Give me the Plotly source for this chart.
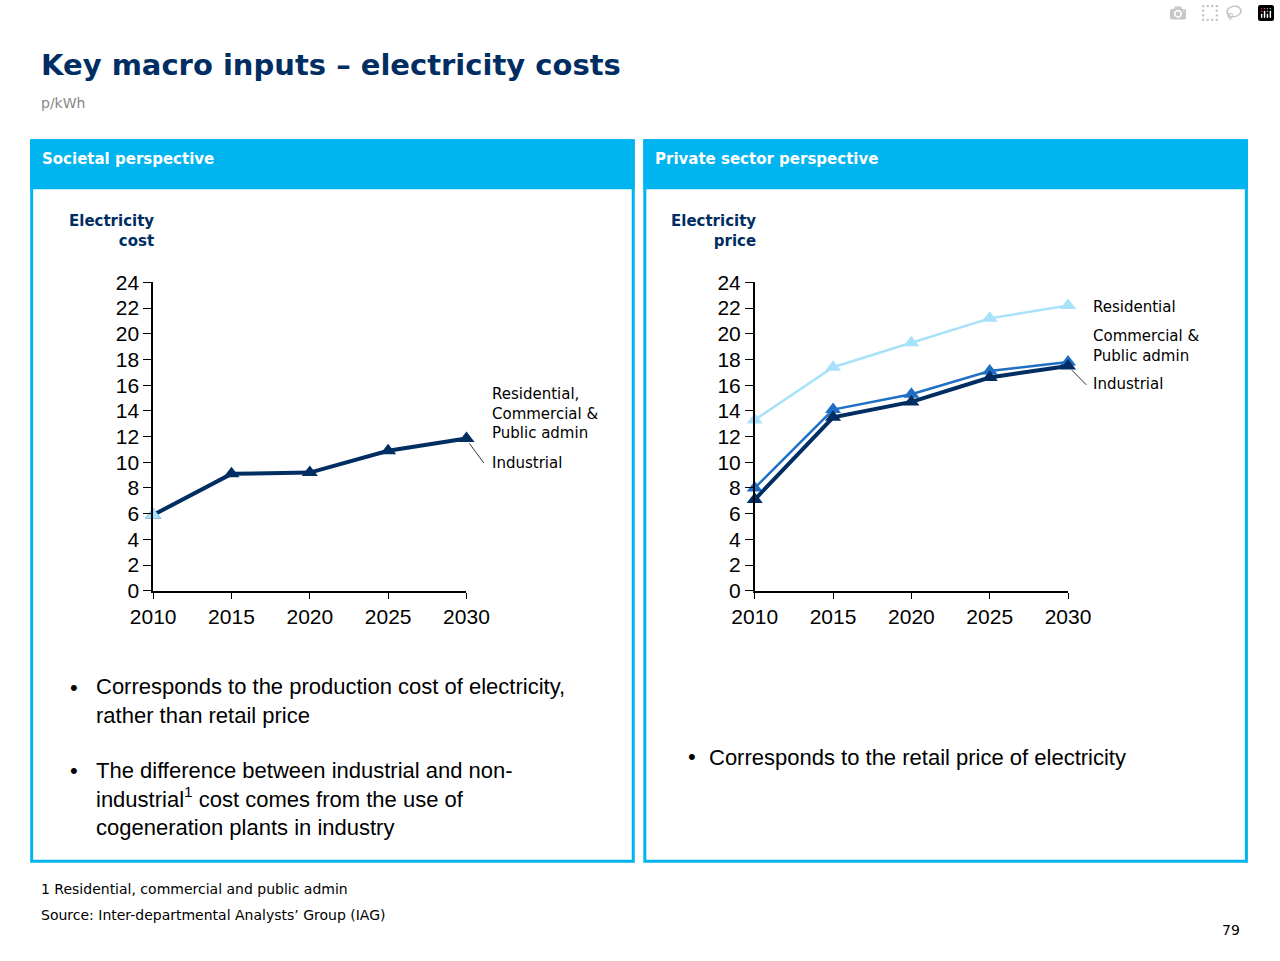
import plotly.graph_objects as go

years = [2010, 2015, 2020, 2025, 2030]
soc_industrial = [5.9, 9.1, 9.2, 10.9, 11.85]
soc_residential = [5.9, 9.1, 9.2, 10.9, 11.85]
priv_residential = [13.3, 17.4, 19.3, 21.2, 22.2]
priv_commercial = [8.0, 14.1, 15.3, 17.1, 17.8]
priv_industrial = [7.1, 13.5, 14.7, 16.6, 17.5]
yticks = list(range(0, 25, 2))

W, H = 1280, 961
def px(x): return x / W
def py(y): return 1 - y / H

NAVY = "#002D62"
MID = "#1F6FC5"
LIGHT = "#A8E2FA"
CYAN = "#00B4F0"

fig = go.Figure()
def tr(x, y, color, width, xa, ya, msize=14, mode="lines+markers"):
    fig.add_trace(go.Scatter(x=x, y=y, mode=mode, xaxis=xa, yaxis=ya,
                             line=dict(color=color, width=width),
                             marker=dict(symbol="triangle-up", size=msize, color=color),
                             cliponaxis=False, showlegend=False))

tr(years, soc_industrial, NAVY, 4, "x", "y")
tr(years[:1], soc_residential[:1], LIGHT, 3, "x", "y", mode="markers")
tr(years, priv_residential, LIGHT, 2.5, "x2", "y2")
tr(years, priv_commercial, MID, 2.5, "x2", "y2")
tr(years, priv_industrial, NAVY, 4, "x2", "y2")

ydom = [py(593), py(277)]
axfont = dict(family="Liberation Sans, Arial", size=21, color="black")
common_x = dict(range=[2010, 2030], tickvals=years, showline=True, linecolor="black", linewidth=1.5,
                ticks="outside", ticklen=6, tickcolor="black", showgrid=False, zeroline=False,
                tickfont=axfont, fixedrange=True)
common_y = dict(range=[0, 24], tickvals=yticks, showline=True, linecolor="black", linewidth=1.5,
                ticks="outside", ticklen=8, tickcolor="black", showgrid=False, zeroline=False,
                tickfont=axfont, domain=ydom, fixedrange=True)
fig.update_layout(
    width=W, height=H, margin=dict(l=0, r=0, t=0, b=0), autosize=False,
    paper_bgcolor="white", plot_bgcolor="white",
    xaxis=dict(common_x, domain=[px(135), px(460)], anchor="y"),
    yaxis=dict(common_y, anchor="x"),
    xaxis2=dict(common_x, domain=[px(759), px(1084)], anchor="y2"),
    yaxis2=dict(common_y, anchor="x2"),
)

shapes = []
for x0, x1 in [(9, 633), (645, 1269)]:
    shapes.append(dict(type="rect", xref="paper", yref="paper", x0=px(x0), x1=px(x1), y0=py(870), y1=py(132),
                       line=dict(color=CYAN, width=3), fillcolor="rgba(0,0,0,0)"))
    shapes.append(dict(type="rect", xref="paper", yref="paper", x0=px(x0), x1=px(x1), y0=py(180), y1=py(132),
                       line=dict(color=CYAN, width=3), fillcolor=CYAN))
shapes.append(dict(type="line", xref="paper", yref="paper", x0=px(463), y0=py(442), x1=px(478), y1=py(462),
                   line=dict(color="black", width=0.8)))
shapes.append(dict(type="line", xref="paper", yref="paper", x0=px(1088), y0=py(367), x1=px(1103), y1=py(382),
                   line=dict(color="black", width=0.8)))
fig.update_layout(shapes=shapes)

V = "DejaVu Sans, Verdana"
def txt(x, y, s, size=16, color="black", bold=False, xanchor="left", yanchor="middle", align="left", font=V):
    fig.add_annotation(x=px(x), y=py(y), xref="paper", yref="paper", text=(f"<b>{s}</b>" if bold else s),
                       showarrow=False, xanchor=xanchor, yanchor=yanchor, align=align,
                       font=dict(family=font, size=size, color=color))

txt(17, 54, "Key macro inputs – electricity costs", size=29, color=NAVY, bold=True)
txt(17, 93, "p/kWh", size=14, color="#888888")
txt(18, 151, "Societal perspective", size=15, color="white", bold=True)
txt(654, 151, "Private sector perspective", size=15, color="white", bold=True)
txt(138, 224, "Electricity<br>cost", size=15, color=NAVY, bold=True, xanchor="right", align="right")
txt(762, 224, "Electricity<br>price", size=15, color=NAVY, bold=True, xanchor="right", align="right")
txt(484, 411, "Residential,<br>Commercial &<br>Public admin", size=15)
txt(484, 462, "Industrial", size=15)
txt(1108, 302, "Residential", size=15)
txt(1108, 342, "Commercial &<br>Public admin", size=15)
txt(1108, 381, "Industrial", size=15)
B = "Liberation Sans, Arial"
txt(47, 692, "•", size=22, font=B)
txt(74, 706, "Corresponds to the production cost of electricity,<br>rather than retail price", size=22, font=B)
txt(47, 777, "•", size=22, font=B)
txt(74, 806, "The difference between industrial and non-<br>industrial<sup>1</sup> cost comes from the use of<br>cogeneration plants in industry", size=22, font=B)
txt(688, 763, "•", size=22, font=B)
txt(710, 764, "Corresponds to the retail price of electricity", size=22, font=B)
txt(17, 898, "1 Residential, commercial and public admin", size=14)
txt(17, 925, "Source: Inter-departmental Analysts’ Group (IAG)", size=14)
txt(1264, 941, "79", size=14, xanchor="right")

fig.write_html("out.html", config={"responsive": False},
               post_script="document.body.style.margin='0';document.body.style.overflow='hidden';")
